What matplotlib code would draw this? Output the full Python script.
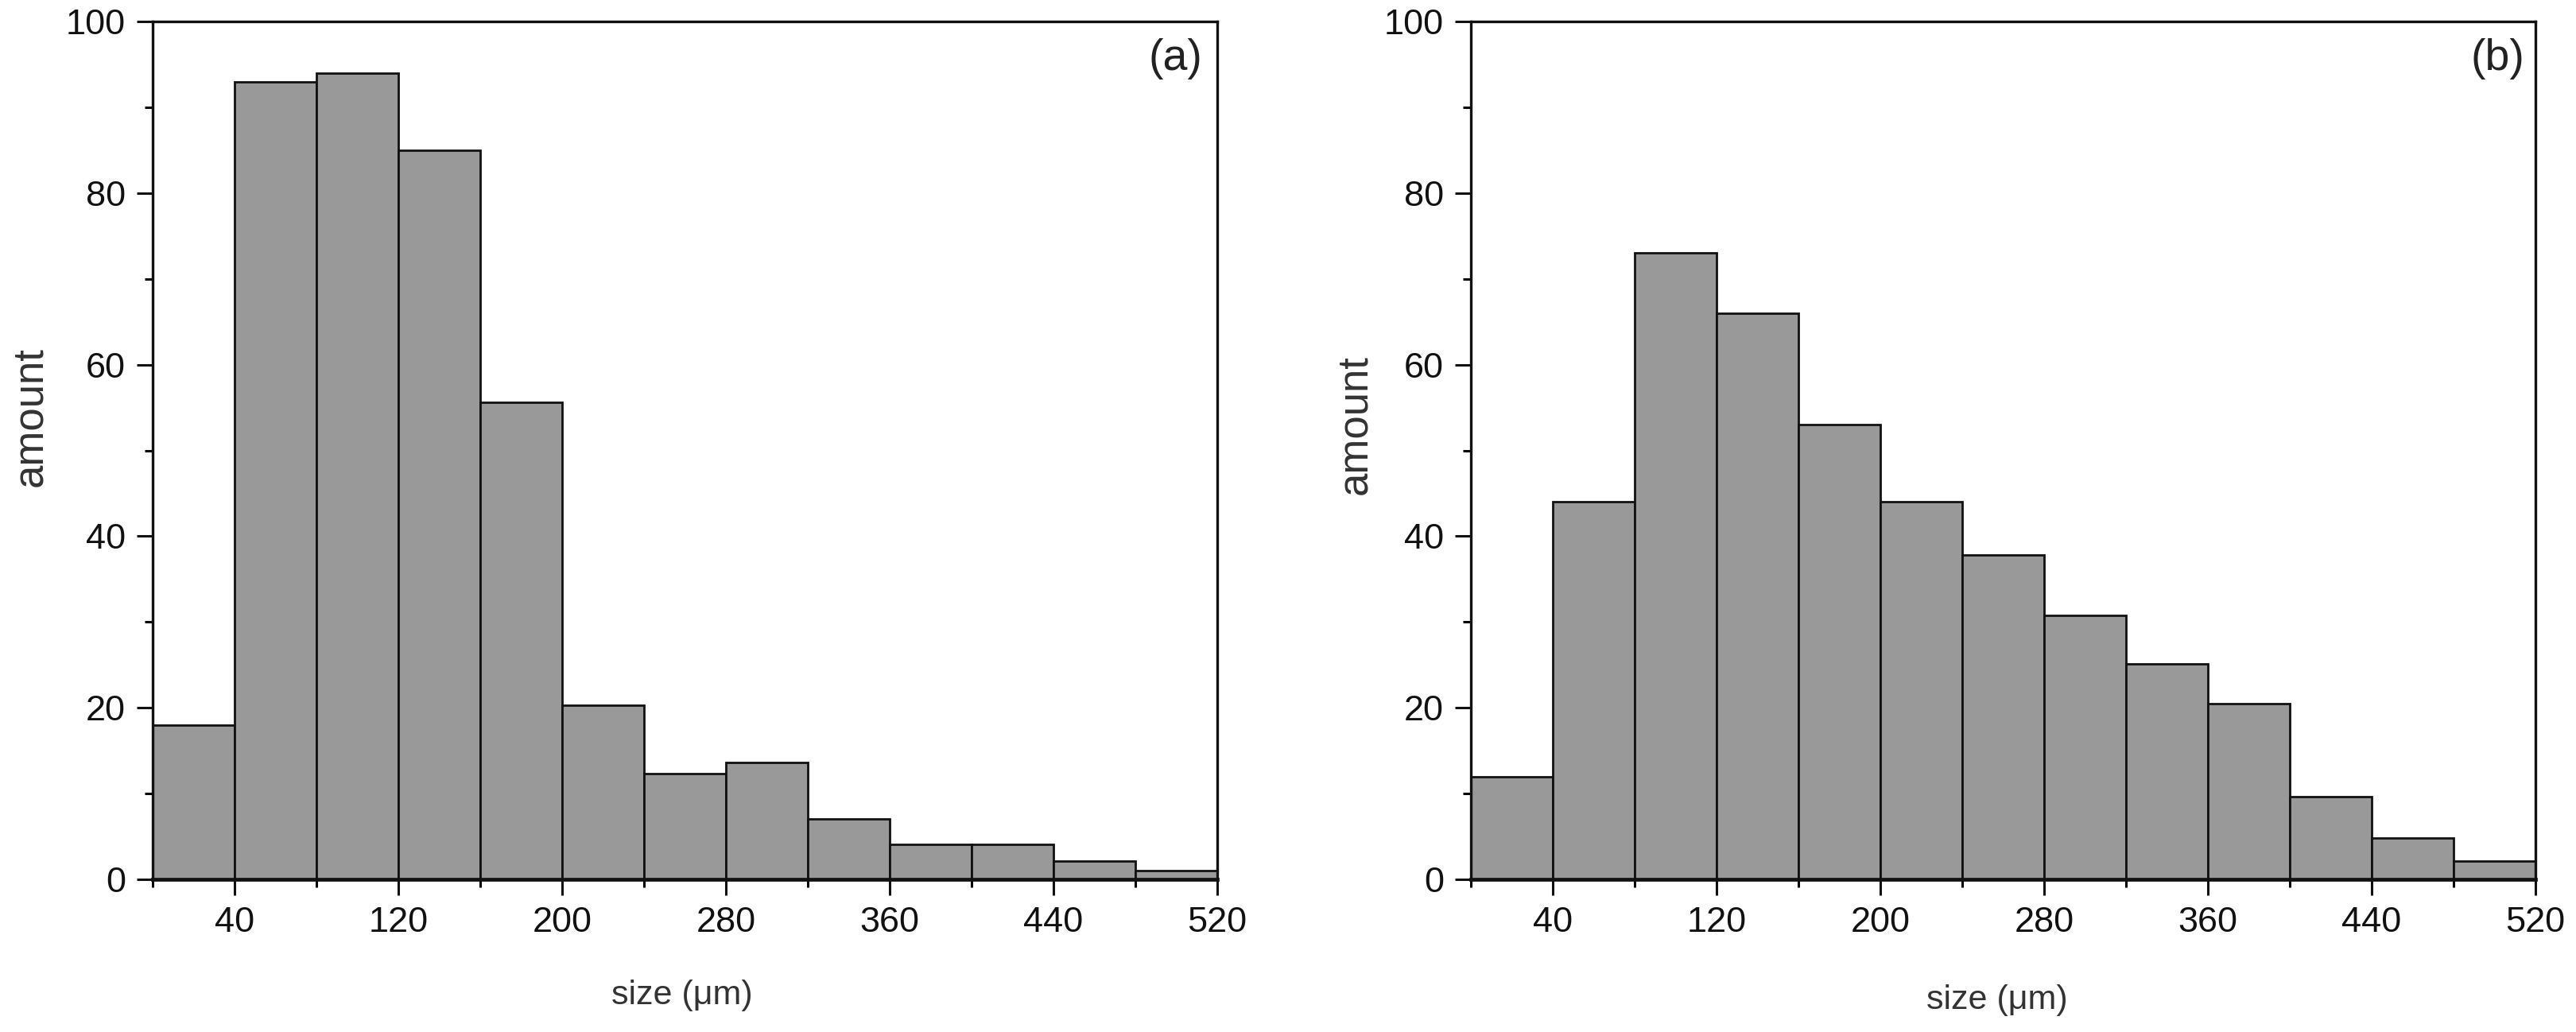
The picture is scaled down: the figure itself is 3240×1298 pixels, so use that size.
import matplotlib
matplotlib.use("Agg")
import matplotlib.pyplot as plt
import numpy as np
from matplotlib.ticker import MultipleLocator, FixedLocator

plt.rcParams['font.family'] = ['Liberation Sans', 'DejaVu Sans']

bin_edges = [0, 40, 80, 120, 160, 200, 240, 280, 320, 360, 400, 440, 480, 520]
counts_a = [18, 93, 94, 85, 55.6, 20.3, 12.3, 13.6, 7.0, 4.1, 4.1, 2.1, 1.0]
counts_b = [12, 44, 73, 66, 53, 44, 37.8, 30.8, 25.1, 20.5, 9.6, 4.8, 2.1]
panel_labels = ["(a)", "(b)"]
xticks = [40, 120, 200, 280, 360, 440, 520]
yticks = [0, 20, 40, 60, 80, 100]
xlabel = "size (\u03bcm)"
ylabel = "amount"

W, H = 3240, 1298
fig = plt.figure(figsize=(W / 100, H / 100), dpi=100)

def px_axes(l, r, t, b):
    return [l / W, 1 - b / H, (r - l) / W, (b - t) / H]

axes_px = [(192, 1531, 27, 1106), (1850, 3189, 27, 1106)]
ylab_coords = [(-0.096, 0.539), (-0.090, 0.530)]
xlab_coords = [(0.497, -0.117), (0.494, -0.122)]
plab_coords = [(0.986, 0.981), (0.9895, 0.981)]

for i, counts in enumerate([counts_a, counts_b]):
    ax = fig.add_axes(px_axes(*axes_px[i]))
    ax.bar(bin_edges[:-1], counts, width=np.diff(bin_edges), align='edge',
           color='#999999', edgecolor='#111111', linewidth=2.0, zorder=2)
    ax.set_xlim(0, 520)
    ax.set_ylim(0, 100)
    ax.xaxis.set_major_locator(FixedLocator(xticks))
    ax.xaxis.set_minor_locator(FixedLocator([0, 80, 160, 240, 320, 400, 480]))
    ax.yaxis.set_major_locator(FixedLocator(yticks))
    ax.yaxis.set_minor_locator(MultipleLocator(10))
    ax.tick_params(axis='both', which='major', direction='out', length=14.5,
                   width=2.2, labelsize=32.5, pad=10, colors='#111111',
                   top=False, right=False)
    ax.tick_params(axis='both', which='minor', direction='out', length=7.5,
                   width=2.2, top=False, right=False)
    for s in ax.spines.values():
        s.set_linewidth(2.4)
        s.set_color('#111111')
    ax.spines['bottom'].set_linewidth(3.4)
    ax.set_xlabel(xlabel, fontsize=31, color='#333333', va='top')
    ax.xaxis.set_label_coords(*xlab_coords[i])
    ax.set_ylabel(ylabel, fontsize=38, color='#333333')
    ax.yaxis.set_label_coords(*ylab_coords[i])
    ax.text(plab_coords[i][0], plab_coords[i][1], panel_labels[i],
            transform=ax.transAxes, ha='right', va='top', fontsize=40,
            color='#222222')

fig.savefig("out.png", dpi=100, facecolor='white')
